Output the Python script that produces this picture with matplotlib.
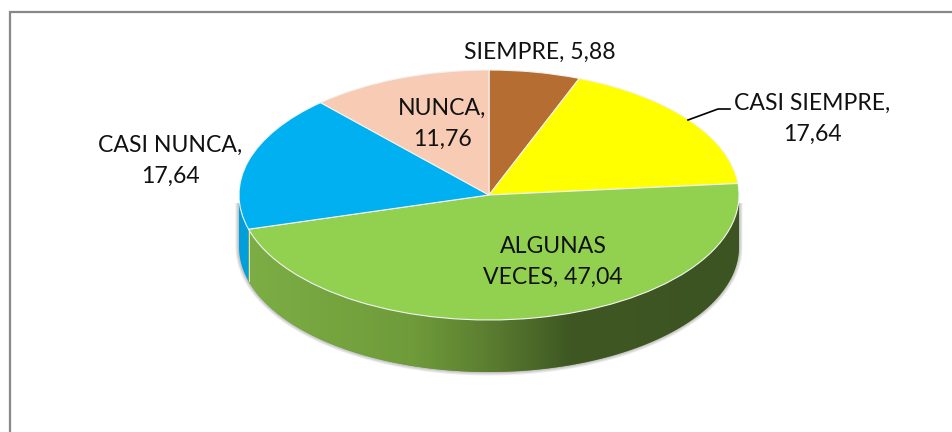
import numpy as np
from matplotlib import pyplot as plt
from matplotlib.colors import LinearSegmentedColormap
from matplotlib.lines import Line2D
from matplotlib.patches import Polygon

plt.rcParams['font.family'] = ['Lato', 'DejaVu Sans']

names = ['SIEMPRE', 'CASI SIEMPRE', 'ALGUNAS VECES', 'CASI NUNCA', 'NUNCA']
values = [5.88, 17.64, 47.04, 17.64, 11.76]
colors = ['#B66D31', '#FFFF00', '#92D050', '#00B0F0', '#F8CBB4']
wall_colors = ['#8A5225', '#C0C000', '#6E9C3C', '#009FD9', '#BB9988']

W, H = 953, 432
cx, cy, rx, ry, depth = 489, 195, 250, 125, 52

fig = plt.figure(figsize=(W/100, H/100), dpi=100)
ax = fig.add_axes([0, 0, 1, 1])

# pie is drawn on a unit circle, axes limits squash it to the ellipse
ax.pie(values, startangle=90, counterclock=False, colors=colors,
       wedgeprops={'edgecolor': '#F2F2F2', 'linewidth': 0.8, 'zorder': 3})
ax.set_aspect('auto')
ax.set_xlim((0-cx)/rx, (W-cx)/rx)
ax.set_ylim((cy-H)/ry, cy/ry)
d = depth/ry


def wall(t1, t2):
    # t is clockwise from the top, in degrees
    t = np.radians(np.linspace(t1, t2, 200))
    x = np.sin(t)
    y = np.cos(t)
    xs = np.r_[x, x[::-1]]
    ys = np.r_[y, y[::-1]-d]
    return np.c_[xs, ys]


# soft shadow under the side wall
for k in [3.5, 2.5, 1.5, 0.7]:
    t = np.radians(np.linspace(90, 270, 300))
    pts = np.c_[np.sin(t)*(rx+k)/rx, np.cos(t)*(ry+k)/ry-d]
    pts = np.r_[[[(rx+k)/rx, -8/ry]], pts, [[-(rx+k)/rx, -8/ry]]]
    ax.add_patch(Polygon(pts, closed=True, fc='#707070', ec='none', alpha=0.13, zorder=0.5))

# side walls of the slices that face us
edges = np.cumsum([0]+values)/sum(values)*360
green_wall = None
for i in range(len(values)):
    t1, t2 = max(edges[i], 90), min(edges[i+1], 270)
    if t1 >= t2:
        continue
    p = Polygon(wall(t1, t2), closed=True, fc=wall_colors[i], ec='none', zorder=1)
    ax.add_patch(p)
    if names[i] == 'ALGUNAS VECES':
        green_wall = p

# green wall goes from light on the left to dark on the right
cmap = LinearSegmentedColormap.from_list('wall', [(0, '#7DAF45'), (0.35, '#6F9B3A'),
                                                  (0.52, '#58792F'), (0.66, '#3F5823'),
                                                  (1, '#3C5322')])
img = ax.imshow(np.linspace(0, 1, 256).reshape(1, -1), cmap=cmap, aspect='auto',
                extent=[-1, 1, -1-d, 0.2], zorder=2)
img.set_clip_path(green_wall)
ax.set_xlim((0-cx)/rx, (W-cx)/rx)
ax.set_ylim((cy-H)/ry, cy/ry)
ax.add_line(Line2D([np.sin(np.radians(edges[3])), np.sin(np.radians(edges[3]))],
                   [np.cos(np.radians(edges[3])), np.cos(np.radians(edges[3]))-d],
                   color='#D9E6D0', lw=0.7, zorder=2.5))


def to_data(px, py):
    return (px-cx)/rx, (cy-py)/ry


def dec(v):
    return f'{v:.2f}'.replace('.', ',')


labels = [f'{names[0]}, {dec(values[0])}',
          f'{names[1]},\n{dec(values[1])}',
          f'ALGUNAS\nVECES, {dec(values[2])}',
          f'{names[3]},\n{dec(values[3])}',
          f'{names[4]},\n{dec(values[4])}']
label_pos = [(540, 52), (812, 119), (553, 262), (170, 161), (442, 124)]
for s, (px, py) in zip(labels, label_pos):
    x, y = to_data(px, py)
    ax.text(x, y, s, ha='center', va='center', fontsize=16.6, color='#111111',
            linespacing=1.6, zorder=5)

# leader line of the yellow slice
lx, ly = zip(*[to_data(*p) for p in [(688, 120), (718, 109), (730, 109)]])
ax.add_line(Line2D(lx, ly, color='black', lw=1.2, zorder=4))

# chart frame, only left and top show in the crop
bx, by = zip(*[to_data(*p) for p in [(10, H), (10, 11.5), (W, 11.5)]])
ax.add_line(Line2D(bx, by, color='#888888', lw=1.6, solid_joinstyle='miter', zorder=4))

plt.savefig('out.png', dpi=100)
